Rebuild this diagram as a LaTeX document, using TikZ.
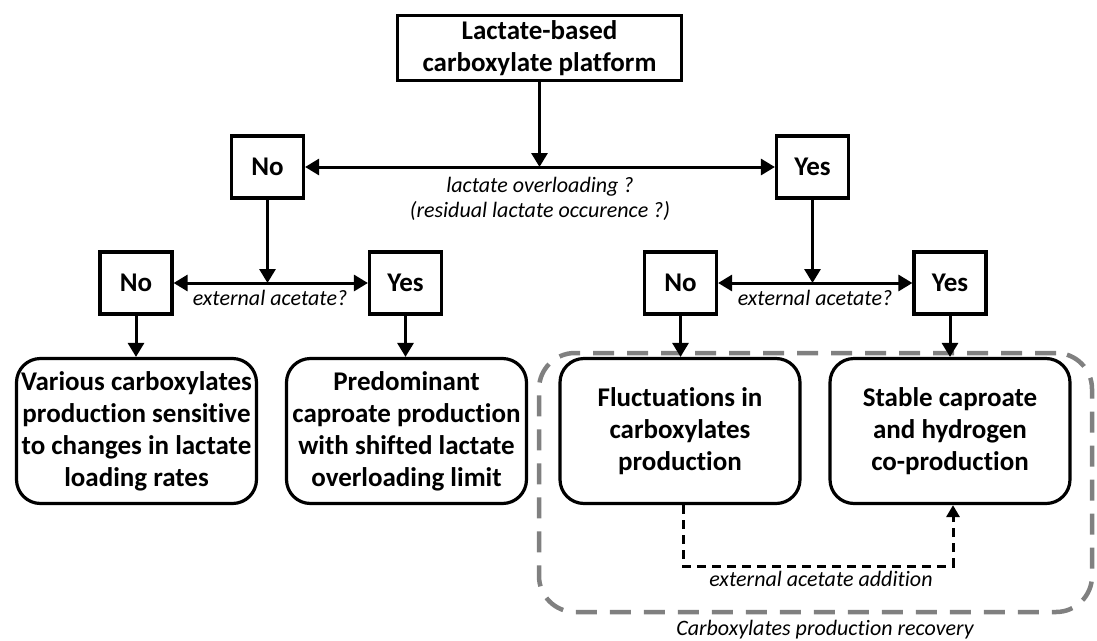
\documentclass[tikz,border=0pt]{standalone}
\usepackage{fontspec}
\setmainfont{Carlito}[Ligatures={NoCommon,NoContextual}]
\usetikzlibrary{arrows.meta,calc}
\begin{document}
\begin{tikzpicture}[x=1pt,y=-1pt,
  box/.style={draw, line width=3.2pt, fill=white, font=\bfseries\fontsize{27}{32}\selectfont, align=center, inner sep=0pt},
  topbox/.style={box, minimum width=284pt, minimum height=65pt},
  yn/.style={box, minimum width=72pt, minimum height=62pt},
  res/.style={box, rounded corners=24pt, minimum width=240pt, minimum height=145pt},
  lbl/.style={font=\itshape\fontsize{22}{25}\selectfont, align=center, inner sep=0pt},
  tip/.tip={Triangle[length=14pt,width=16pt]},
  arr/.style={line width=3pt, -tip},
  dbl/.style={line width=3pt, tip-tip},
  dasharr/.style={line width=3pt, dash pattern=on 9pt off 6pt, -{Triangle[length=12pt,width=13pt]}},
  grp/.style={draw=black!50, line width=4.5pt, dash pattern=on 21pt off 13pt, rounded corners=36pt, inner sep=0pt}
]
\useasboundingbox (0,0) rectangle (1097,640);

% group frame
\node[grp, minimum width=553pt, minimum height=259pt] (grp) at (815.5,482.5) {};
\node[lbl] (cap) at (825,630) {Carboxylates production recovery};

% top
\node[topbox] (top) at (539.5,48) {Lactate-based\\carboxylate platform};

% level 1
\node[yn] (no1) at (267.5,167) {No};
\node[yn] (yes1) at (812.5,167) {Yes};
\coordinate (j1) at (top.south |- no1.east);
\draw[arr] (top) -- (j1);
\draw[dbl] (no1) -- (yes1);
\node[lbl] (q1) at (540,199) {lactate overloading ?\\(residual lactate occurence ?)};

% level 2 left
\node[yn] (no2a) at (136,283) {No};
\node[yn] (yes2a) at (405.5,283) {Yes};
\coordinate (j2) at (no1 |- no2a.east);
\draw[arr] (no1) -- (j2);
\draw[dbl] (no2a) -- (yes2a);
\node[lbl] (q2a) at (270,298) {external acetate?};

% level 2 right
\node[yn] (no2b) at (680.5,283) {No};
\node[yn] (yes2b) at (950,283) {Yes};
\coordinate (j3) at (yes1 |- no2b.east);
\draw[arr] (yes1) -- (j3);
\draw[dbl] (no2b) -- (yes2b);
\node[lbl] (q2b) at (815,298) {external acetate?};

% results
\node[res] (res1) at (136.5,431) {Various carboxylates\\production sensitive\\to changes in lactate\\loading rates};
\node[res] (res2) at (406.5,431) {Predominant\\caproate production\\with shifted lactate\\overloading limit};
\node[res] (res3) at (680,431) {Fluctuations in\\carboxylates\\production};
\node[res] (res4) at (950,431) {Stable caproate\\and hydrogen\\co-production};

\draw[arr] (no2a) -- (no2a |- res1.north);
\draw[arr] (yes2a) -- (yes2a |- res2.north);
\draw[arr] (no2b) -- (no2b |- res3.north);
\draw[arr] (yes2b) -- (yes2b |- res4.north);

% recovery
\coordinate (d1) at ($(res3.south)+(3,61)$);
\draw[dasharr] ($(res3.south)+(3,0)$) -- (d1) -| ($(res4.south)+(3,0)$);
\node[lbl] (q3) at (821,579) {external acetate addition};
\end{tikzpicture}
\end{document}
